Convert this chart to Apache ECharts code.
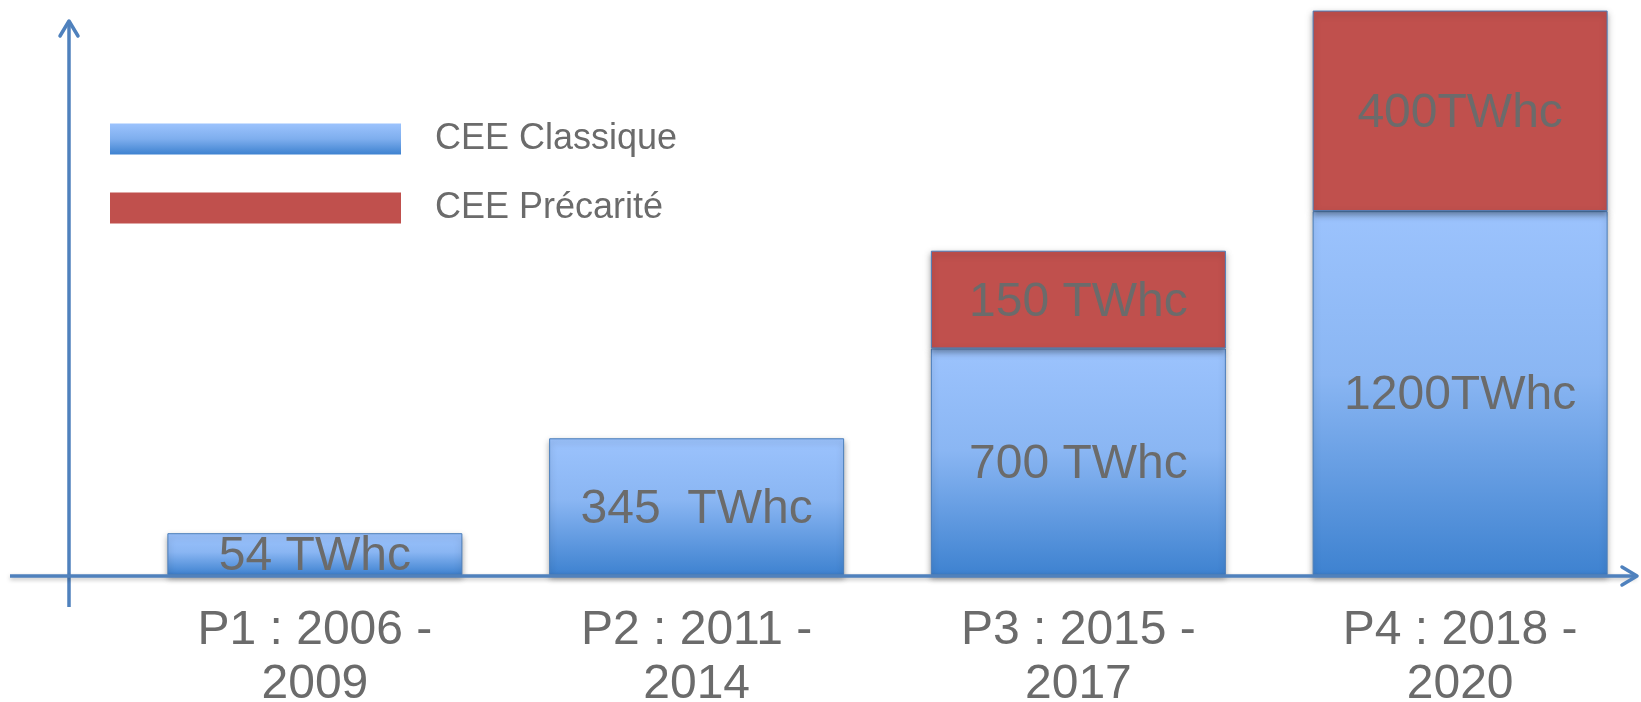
<!DOCTYPE html>
<html>
<head>
<meta charset="utf-8">
<script src="https://cdn.jsdelivr.net/npm/echarts@6/dist/echarts.min.js"></script>
<style>
  html, body { margin: 0; padding: 0; background: #ffffff; }
  #chart { width: 1641px; height: 702px; }
</style>
</head>
<body>
<div id="chart"></div>
<script>
// Periods (category axis labels)
const periods = ['P1 : 2006 -\n2009', 'P2 : 2011 -\n2014', 'P3 : 2015 -\n2017', 'P4 : 2018 -\n2020'];
// Series names
const seriesNames = ['CEE Classique', 'CEE Précarité'];
// Bar heights as drawn in the schematic (relative units, not proportional to the labels)
const classiqueHeights = [7.4, 24.2, 40.1, 64.4];
const precariteHeights = [null, null, 17.3, 35.5];
// Value labels written on the bars
const classiqueLabels = ['54 TWhc', '345  TWhc', '700 TWhc', '1200TWhc'];
const precariteLabels = ['', '', '150 TWhc', '400TWhc'];

const FONT = '"Liberation Sans", Arial, Helvetica, sans-serif';
const TEXT = '#6b6b6b';
const AXIS = '#4f81bd';

const blueGrad = new echarts.graphic.LinearGradient(0, 0, 0, 1, [
  { offset: 0, color: '#9cc3fd' },
  { offset: 0.45, color: '#8ab6f3' },
  { offset: 1, color: '#3e82d0' }
]);
const legendBlue = new echarts.graphic.LinearGradient(0, 0, 0, 1, [
  { offset: 0, color: '#9cc3fd' },
  { offset: 0.5, color: '#7eaeee' },
  { offset: 1, color: '#3e82d0' }
]);
const red = '#c0504d';

const chart = echarts.init(document.getElementById('chart'), null, { renderer: 'canvas' });

const labelStyle = {
  show: true,
  position: 'inside',
  color: TEXT,
  fontSize: 48,
  fontFamily: FONT
};

chart.setOption({
  animation: false,
  backgroundColor: '#ffffff',
  grid: { left: 124, right: -10, top: 10, bottom: 127, containLabel: false, outerBoundsMode: 'none' },
  legend: {
    orient: 'vertical',
    left: 105,
    top: 116,
    itemWidth: 291,
    itemHeight: 31,
    itemGap: 33,
    icon: 'rect',
    textStyle: { color: TEXT, fontSize: 36, fontFamily: FONT, padding: [0, 0, 0, 29], lineHeight: 36, verticalAlign: 'middle' },
    data: [
      { name: seriesNames[0], itemStyle: { color: legendBlue, borderWidth: 0 } },
      { name: seriesNames[1], itemStyle: { color: red, borderWidth: 0 } }
    ]
  },
  xAxis: {
    type: 'category',
    data: periods,
    axisLine: { show: false },
    axisTick: { show: false },
    axisLabel: {
      color: TEXT,
      fontSize: 48,
      fontFamily: FONT,
      lineHeight: 54,
      margin: 29,
      interval: 0
    }
  },
  yAxis: {
    type: 'value',
    min: 0,
    max: 100,
    show: false,
    splitLine: { show: false }
  },
  series: [
    {
      name: seriesNames[0],
      type: 'bar',
      stack: 'total',
      barWidth: 295,
      data: classiqueHeights,
      itemStyle: {
        color: blueGrad,
        borderColor: '#4a7ebb',
        borderWidth: 1,
        shadowBlur: 6,
        shadowOffsetY: 3,
        shadowColor: 'rgba(0,0,0,0.35)'
      },
      label: Object.assign({}, labelStyle, {
        formatter: p => classiqueLabels[p.dataIndex],
        offset: [0, 3]
      })
    },
    {
      name: seriesNames[1],
      type: 'bar',
      stack: 'total',
      barWidth: 295,
      data: precariteHeights,
      itemStyle: {
        color: red,
        borderColor: '#4a7ebb',
        borderWidth: 1,
        shadowBlur: 6,
        shadowOffsetY: 3,
        shadowColor: 'rgba(0,0,0,0.35)'
      },
      label: Object.assign({}, labelStyle, {
        formatter: p => precariteLabels[p.dataIndex],
        offset: [0, 3]
      })
    }
  ],
  graphic: [
    // y axis line with open arrow head
    { type: 'line', z: 10, shape: { x1: 69, y1: 607, x2: 69, y2: 21 },
      style: { stroke: AXIS, lineWidth: 3.5 } },
    { type: 'polyline', z: 10, shape: { points: [[60, 36], [69, 21], [78, 36]] },
      style: { stroke: AXIS, lineWidth: 3.5, fill: null, lineCap: 'round', lineJoin: 'round' } },
    // x axis line with open arrow head
    { type: 'line', z: 10, shape: { x1: 10, y1: 576, x2: 1636, y2: 576 },
      style: { stroke: AXIS, lineWidth: 3.5, shadowBlur: 4, shadowOffsetY: 2, shadowColor: 'rgba(0,0,0,0.25)' } },
    { type: 'polyline', z: 10, shape: { points: [[1622, 567], [1637, 576], [1622, 585]] },
      style: { stroke: AXIS, lineWidth: 3.5, fill: null, lineCap: 'round', lineJoin: 'round' } }
  ]
});
</script>
</body>
</html>
